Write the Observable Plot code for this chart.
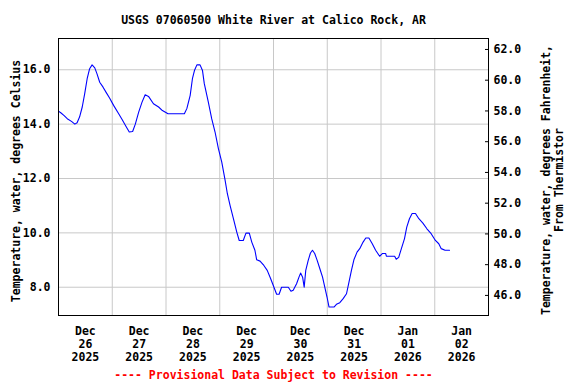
<!DOCTYPE html>
<html><head><meta charset="utf-8">
<script src="https://cdn.jsdelivr.net/npm/d3@7"></script>
<script src="https://cdn.jsdelivr.net/npm/@observablehq/plot@0.6"></script>
<style>
body{margin:0;background:#fff;}
svg{display:block}
</style></head><body><div id="chart"></div>
<script>
const title = "USGS 07060500 White River at Calico Rock, AR";
const footer = "---- Provisional Data Subject to Revision ----";
const leftLabel = "Temperature, water, degrees Celsius";
const rightLabel = "Temperature, water, degrees Fahrenheit,\nFrom Thermistor";
const startDate = Date.UTC(2025, 11, 26);
const dayCount = 8;
const dayLabels = ["Dec\n26\n2025","Dec\n27\n2025","Dec\n28\n2025","Dec\n29\n2025","Dec\n30\n2025","Dec\n31\n2025","Jan\n01\n2026","Jan\n02\n2026"];
const celsiusTicks = [8, 10, 12, 14, 16];
const fahrenheitTicks = [46, 48, 50, 52, 54, 56, 58, 60, 62];
const hoursFromStart = [0,1,2.4,3.9,5.8,7.3,8.3,9.4,10.6,11.7,
12.8,13.9,15.0,16.2,17.2,18.4,19.9,21.4,22.8,24.6,
26.6,28.4,30.1,31.6,33.1,34.3,35.8,37.3,38.7,40.2,
42.4,44.7,46.4,48.9,56.2,57.3,58.8,59.8,60.7,61.8,
63.2,64.3,65.1,66.9,68.4,69.9,71.4,72.9,74.4,75.4,
76.6,78.1,79.6,80.7,82.5,83.7,85.2,86.3,87.7,88.5,
90.0,91.7,93.2,94.7,96.2,97.4,98.5,99.6,102.6,103.8,
104.8,106.3,107.5,108.1,109.0,109.7,110.4,111.5,112.5,113.4,
114.4,115.5,116.7,117.9,118.9,119.9,120.8,123.0,124.1,125.6,
127.1,128.6,129.7,130.8,131.9,133.3,134.5,136.0,137.2,138.6,
140.1,141.6,143.4,144.6,146.1,146.4,150.1,150.8,151.9,153.1,
154.5,155.5,156.7,157.9,159.4,160.9,162.7,164.5,166.4,168.3,
169.8,170.9,172.6,174.6];
const tempC = [14.48,14.42,14.32,14.2,14.1,14.0,14.05,14.26,14.63,15.12,
15.67,16.04,16.18,16.07,15.85,15.54,15.36,15.15,14.96,14.69,
14.42,14.17,13.92,13.71,13.73,14.0,14.44,14.81,15.08,15.02,
14.75,14.63,14.5,14.38,14.38,14.57,15.06,15.67,15.97,16.18,
16.18,15.97,15.49,14.81,14.2,13.71,13.1,12.6,11.93,11.44,
11.01,10.52,10.03,9.72,9.72,9.99,9.99,9.66,9.36,9.01,
8.96,8.8,8.62,8.32,8.0,7.74,7.74,8.0,8.0,7.85,
7.89,8.13,8.4,8.52,8.37,8.0,8.62,8.99,9.26,9.36,
9.24,8.99,8.68,8.37,8.0,7.64,7.27,7.27,7.37,7.43,
7.58,7.76,8.19,8.62,9.01,9.29,9.42,9.66,9.81,9.81,
9.6,9.36,9.14,9.24,9.24,9.14,9.14,9.03,9.1,9.42,
9.79,10.21,10.52,10.71,10.71,10.52,10.36,10.15,9.97,9.72,
9.6,9.42,9.36,9.36];

const HOUR = 3600000, DAY = 86400000;
const data = hoursFromStart.map((h, i) => ({date: new Date(startDate + h * HOUR), temp: tempC[i]}));
const noons = d3.range(dayCount).map(i => new Date(startDate + (i + 0.5) * DAY));
const midnights = d3.range(1, dayCount).map(i => new Date(startDate + i * DAY));
const labelByTime = new Map(noons.map((d, i) => [+d, dayLabels[i]]));
// right axis as drawn on the chart (slightly different spacing than the left one)
const fToC = f => 7.699 + (f - 46) * 0.5655;
const fPos = fahrenheitTicks.map(fToC);
const fLabel = new Map(fPos.map((c, i) => [c, fahrenheitTicks[i].toFixed(1)]));

const chart = Plot.plot({
  width: 576, height: 384,
  marginLeft: 58, marginRight: 88, marginTop: 38, marginBottom: 69,
  style: {fontFamily: "'DejaVu Sans Mono', monospace", fontSize: "11.5px", fontWeight: "bold", background: "#fff"},
  x: {type: "utc", domain: [new Date(startDate), new Date(startDate + dayCount * DAY)]},
  y: {domain: [6.96, 17.15]},
  marks: [
    Plot.gridX(midnights, {stroke: "#c8c8c8", strokeOpacity: 1}),
    Plot.gridY(celsiusTicks, {stroke: "#c8c8c8", strokeOpacity: 1}),
    Plot.line(data, {x: "date", y: "temp", stroke: "#0000ff", strokeWidth: 1.1}),
    Plot.frame({stroke: "black"}),
    Plot.axisX(noons, {tickSize: 0, tickPadding: 10, label: null, lineHeight: 1.13, tickFormat: d => labelByTime.get(+d)}),
    Plot.axisY(celsiusTicks, {anchor: "left", tickSize: 0, tickPadding: 8, label: null, tickFormat: d => d.toFixed(1)}),
    Plot.axisY(fPos, {anchor: "right", tickSize: 4, tickPadding: 5, dx: -4, label: null, tickFormat: d => fLabel.get(d)}),
    Plot.text([leftLabel], {frameAnchor: "left", textAnchor: "middle", lineAnchor: "middle", rotate: -90, dx: -42, dy: 4}),
    Plot.text([rightLabel], {frameAnchor: "right", textAnchor: "middle", lineAnchor: "middle", rotate: -90, dx: 64, dy: 3, lineHeight: 1.13}),
    Plot.text([title], {frameAnchor: "top", lineAnchor: "middle", dy: -18}),
    Plot.text([footer], {frameAnchor: "bottom", lineAnchor: "middle", dy: 60, fill: "#ff0000"})
  ]
});
document.getElementById("chart").append(chart);
</script></body></html>
